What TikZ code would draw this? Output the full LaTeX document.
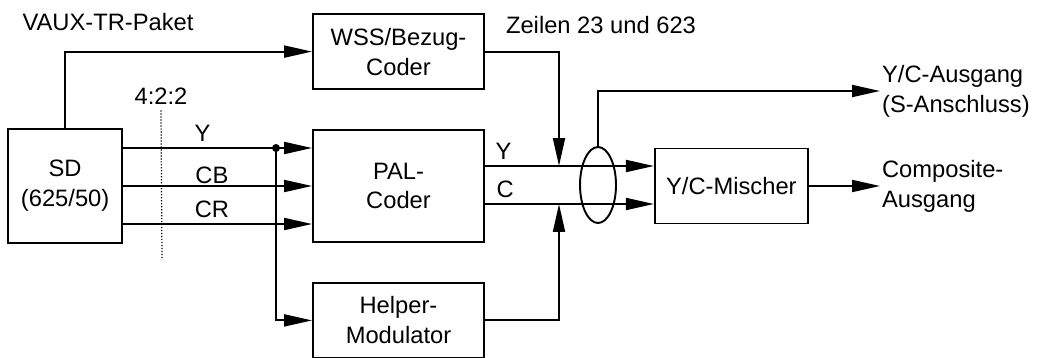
\documentclass[tikz,border=0pt]{standalone}
\usepackage{fontspec}
\setmainfont{Liberation Sans}
\usetikzlibrary{arrows.meta, positioning, calc, shapes.geometric}

\begin{document}
\begin{tikzpicture}[x=0.02cm, y=-0.02cm,
  every node/.style={font=\fontsize{13.5}{17}\selectfont},
  block/.style={draw, line width=1.1pt, align=center, inner sep=0pt},
  sig/.style={-{Triangle[length=0.56cm,width=0.24cm]}, line width=1.1pt}]
  \useasboundingbox (0,0) rectangle (1037,358);
  \node[block, minimum width=3.42cm, minimum height=2.24cm] (pal) at (398.5,186) {PAL-\\Coder};
  \node[block, minimum width=3.42cm, minimum height=1.5cm] (wss) [above=0.78cm of pal] {WSS/Bezug-\\Coder};
  \node[block, minimum width=3.42cm, minimum height=1.5cm] (helper) [below=0.78cm of pal] {Helper-\\Modulator};
  \node[block, minimum width=2.28cm, minimum height=2.28cm] (sd) [left=3.78cm of pal] {SD\\(625/50)};
  \node[block, minimum width=3.06cm, minimum height=1.5cm] (mix) [right=3.38cm of pal] {Y/C-Mischer};
  \node[draw, ellipse, line width=1.1pt, minimum width=0.72cm, minimum height=1.52cm, inner sep=0pt] (bundle) at (598,185) {};
  \node (vaux) at (108,22) {VAUX-TR-Paket};
  \node (zeilen) at (601,25) {Zeilen 23 und 623};
  \node (ratio) at (161,96) {4:2:2};
  \node[anchor=west, align=left, inner sep=1pt] (svideo) at (880,91) {Y/C-Ausgang\\(S-Anschluss)};
  \node[anchor=west, align=left, inner sep=1pt] (comp) at (880,186) {Composite-\\Ausgang};
  \coordinate (ysplit) at (276,148);
  \coordinate (ratioend) at (162,260);
  \coordinate (yjoin) at (559,166);
  \coordinate (cjoin) at (559,204);
  \draw[densely dotted, line width=0.7pt] (ratio.south) -- (ratioend);
  \draw[sig] (sd.north) |- (wss.west);
  \draw[sig] ($(sd.east)+(0,-38)$) -- node[pos=0.42, above=3pt, inner sep=0pt] {Y} ($(pal.west)+(0,-38)$);
  \draw[sig] (sd.east) -- node[pos=0.47, above=0.5pt, inner sep=0pt] {CB} (pal.west);
  \draw[sig] ($(sd.east)+(0,38)$) -- node[pos=0.47, above=3pt, inner sep=0pt] {CR} ($(pal.west)+(0,38)$);
  \fill (ysplit) circle[radius=0.08cm];
  \draw[sig] (ysplit) |- (helper.west);
  \draw[sig] (pal.east |- yjoin) -- node[pos=0.11, above=3pt, inner sep=0pt] {Y} (mix.west |- yjoin);
  \draw[sig] (pal.east |- cjoin) -- node[pos=0.12, above=3pt, inner sep=0pt] {C} (mix.west |- cjoin);
  \draw[sig] (wss.east) -| (yjoin);
  \draw[sig] (helper.east) -| (cjoin);
  \draw[sig] (bundle.north) |- (svideo.west);
  \draw[sig] (mix.east) -- (mix.east -| comp.west);
\end{tikzpicture}
\end{document}
